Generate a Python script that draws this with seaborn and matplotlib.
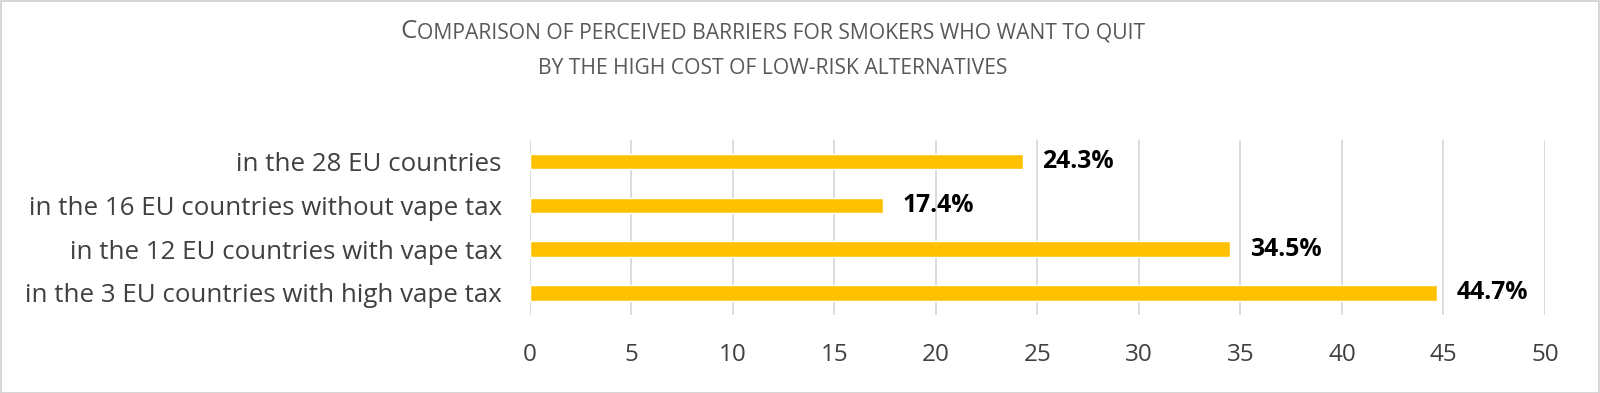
"""Perceived cost barrier for smokers who want to quit, by vape-tax group."""

import matplotlib.pyplot as plt
import pandas as pd
import seaborn as sns

groups = [
    "in the 28 EU countries",
    "in the 16 EU countries without vape tax",
    "in the 12 EU countries with vape tax",
    "in the 3 EU countries with high vape tax",
]
shares = [24.3, 17.4, 34.5, 44.7]
x_ticks = [0, 5, 10, 15, 20, 25, 30, 35, 40, 45, 50]

BAR = "#FFC000"
GRID = "#D9D9D9"
TEXT = "#404040"

sns.set_theme(style="white")
plt.rcParams["font.family"] = ["Open Sans", "DejaVu Sans"]

df = pd.DataFrame({"group": groups, "share": shares})

fig = plt.figure(figsize=(16, 3.93), dpi=100)
ax = fig.add_axes([0.331, 0.199, 0.6346, 0.446])

sns.barplot(data=df, x="share", y="group", color=BAR, width=0.35,
            saturation=1, ax=ax)

ax.set_xlim(0, 50)
ax.set_xticks(x_ticks)
ax.set_xlabel("")
ax.set_ylabel("")
for s in ax.spines.values():
    s.set_visible(False)
ax.grid(axis="x", color=GRID, linewidth=1.3)
ax.set_axisbelow(True)
ax.tick_params(axis="x", colors=GRID, length=5, width=1.3, pad=15,
               labelcolor=TEXT, labelsize=17.5)
ax.tick_params(axis="y", length=0, pad=20, labelcolor=TEXT, labelsize=18.6)

for i, v in enumerate(shares):
    ax.annotate(f"{v}%", xy=(v, i), xytext=(14, 0), textcoords="offset points",
                va="center", ha="left", fontsize=17.8, fontweight="bold",
                color="black")

# title in small caps: big first letter + smaller uppercase rest
cx = 773 / 1600
t1 = fig.text(cx, 1 - 38 / 393, "C", fontsize=18.6, color="#595959",
              va="baseline", ha="left")
t2 = fig.text(cx, 1 - 38 / 393,
              "OMPARISON OF PERCEIVED BARRIERS FOR SMOKERS WHO WANT TO QUIT",
              fontsize=15.2, color="#595959", va="baseline", ha="left")
fig.text(cx, 1 - 74 / 393, "BY THE HIGH COST OF LOW-RISK ALTERNATIVES",
         fontsize=15.2, color="#595959", va="baseline", ha="center")
fig.canvas.draw()
r = fig.canvas.get_renderer()
w1 = t1.get_window_extent(r).width / fig.bbox.width
w2 = t2.get_window_extent(r).width / fig.bbox.width
x0 = cx - (w1 + w2) / 2
t1.set_x(x0)
t2.set_x(x0 + w1)

fig.patches.append(plt.Rectangle((0.0005, 0.001), 0.999, 0.997,
                                 transform=fig.transFigure, fill=False,
                                 edgecolor="#D0D0D0", linewidth=1.2))

fig.savefig("out.png", dpi=100)
